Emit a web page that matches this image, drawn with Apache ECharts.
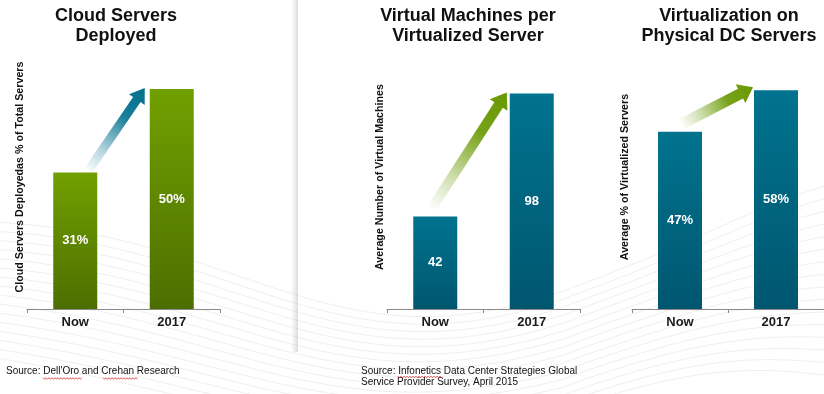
<!DOCTYPE html>
<html><head><meta charset="utf-8">
<script src="https://cdn.jsdelivr.net/npm/echarts@6/dist/echarts.min.js"></script>
<style>html,body{margin:0;padding:0;background:#fff}#c{width:824px;height:394px}</style>
</head><body><div id="c"></div>
<script>
// ---- data ----
const categories = ['Now', '2017'];
const cloudValues = [31, 50];
const vmValues = [42, 98];
const virtValues = [47, 58];
const panelTitles = ['Cloud Servers\nDeployed', 'Virtual Machines per\nVirtualized Server', 'Virtualization on\nPhysical DC Servers'];
const yNames = ['Cloud Servers Deployedas % of Total Servers', 'Average Number of Virtual Machines', 'Average % of Virtualized Servers'];
const labelSuffix = ['%', '', '%'];
const axisMax = [60, 120, 70];
const source1 = "Source: Dell'Oro and Crehan Research";
const source2 = "Source: Infonetics Data Center Strategies Global\nService Provider Survey, April 2015";

// ---- layout / style ----
const FONT = '"Liberation Sans", Arial, sans-serif';
const gridLefts = [27, 387, 632];
const gridW = 193;
const titleCenters = [116, 468, 729];
const seriesData = [cloudValues, vmValues, virtValues];
const barColors = [
  ['#71a000', '#4d6e00'],
  ['#00738f', '#00566f'],
  ['#00738f', '#00566f']
];
const arrowColors = [[0, 112, 142], [104, 152, 0], [104, 152, 0]];

const chart = echarts.init(document.getElementById('c'), null, {renderer: 'canvas'});

const grids = [], xAxes = [], yAxes = [], series = [], titles = [];
for (let i = 0; i < 3; i++) {
  grids.push({left: gridLefts[i], width: gridW, top: 45, bottom: 85});
  xAxes.push({
    type: 'category', gridIndex: i, data: categories,
    axisLine: {lineStyle: {color: '#8a8a8a', width: 1}},
    axisTick: {show: true, length: 4, lineStyle: {color: '#8a8a8a'}},
    axisLabel: {color: '#1a1a1a', fontFamily: FONT, fontWeight: 'bold', fontSize: 13, margin: 7}
  });
  yAxes.push({
    type: 'value', gridIndex: i, min: 0, max: axisMax[i],
    name: yNames[i], nameLocation: 'middle', nameGap: 1, nameRotate: 90,
    nameTextStyle: {color: '#111', fontFamily: FONT, fontWeight: 'bold', fontSize: 10.7},
    axisLine: {show: false}, axisTick: {show: false}, axisLabel: {show: false}, splitLine: {show: false}
  });
  const sfx = labelSuffix[i];
  series.push({
    type: 'bar', xAxisIndex: i, yAxisIndex: i, data: seriesData[i], barWidth: 44,
    itemStyle: {color: new echarts.graphic.LinearGradient(0, 0, 0, 1, [
      {offset: 0, color: barColors[i][0]}, {offset: 1, color: barColors[i][1]}])},
    label: {show: true, position: 'inside', color: '#fff', fontFamily: FONT, fontWeight: 'bold', fontSize: 13,
      formatter: p => p.value + sfx},
    silent: true, animation: false
  });
  titles.push({
    text: panelTitles[i], left: titleCenters[i], top: 6, textAlign: 'center', padding: 0,
    textStyle: {color: '#111', fontFamily: FONT, fontWeight: 'bold', fontSize: 18, lineHeight: 20}
  });
}

// decorative background waves
const bg = [];
for (let k = 0; k < 16; k++) {
  const y0 = 222 + k * 9;
  bg.push({
    type: 'bezierCurve', z: -10, silent: true,
    shape: {x1: -10, y1: y0, cpx1: 240, cpy1: y0 + 10 + k * 2, cpx2: 330, cpy2: y0 + 150 - k * 3, x2: 560, y2: y0 + 70 - k * 1},
    style: {stroke: '#ebebeb', lineWidth: 0.8, fill: null}
  });
  bg.push({
    type: 'bezierCurve', z: -10, silent: true,
    shape: {x1: 560, y1: y0 + 70 - k, cpx1: 700, cpy1: y0 + 20 - k, cpx2: 760, cpy2: y0 - 20 + k * 2, x2: 840, y2: y0 - 40 + k * 4},
    style: {stroke: '#ebebeb', lineWidth: 0.8, fill: null}
  });
}
// panel shadow
bg.push({type: 'rect', z: -5, silent: true, shape: {x: 291, y: 0, width: 7, height: 352},
  style: {fill: new echarts.graphic.LinearGradient(0, 0, 1, 0, [
    {offset: 0, color: 'rgba(200,200,200,0)'}, {offset: 1, color: 'rgba(190,190,190,0.55)'}])}});

const sources = [
  {type: 'text', left: 6, top: 366, style: {text: source1, font: '10px ' + FONT, fill: '#111'}},
  {type: 'text', left: 361, top: 366, style: {text: source2, font: '10px ' + FONT, fill: '#111', lineHeight: 11}}
];

function squiggle(x1, x2, y) {
  const pts = [];
  let up = true;
  for (let x = x1; x <= x2; x += 1.5) { pts.push([x, y + (up ? -0.8 : 0.8)]); up = !up; }
  return {type: 'polyline', silent: true, shape: {points: pts}, style: {stroke: '#e03030', lineWidth: 0.8, fill: null}};
}
const squiggles = [squiggle(43, 83, 378.5), squiggle(103, 138, 378.5), squiggle(398, 442, 377)];

chart.setOption({
  animation: false,
  backgroundColor: '#ffffff',
  title: titles, grid: grids, xAxis: xAxes, yAxis: yAxes, series: series,
  graphic: bg.concat(sources, squiggles)
});

// arrows computed from bar positions
const tailOff = [[13, -2], [-3, -9], [2, -8]];
const tipOff = [[-5, -1], [-3, -1], [-1, -3]];
const shaftW = [9, 10, 11];
const headW = [19, 21, 21];
const headL = [14, 15, 14];
const arrows = [];
for (let i = 0; i < 3; i++) {
  const a = chart.convertToPixel({seriesIndex: i}, [0, seriesData[i][0]]);
  const b = chart.convertToPixel({seriesIndex: i}, [1, seriesData[i][1]]);
  const T = [a[0] + tailOff[i][0], a[1] + tailOff[i][1]];
  const P = [b[0] - 22 + tipOff[i][0], b[1] + tipOff[i][1]];
  const dx = P[0] - T[0], dy = P[1] - T[1], L = Math.hypot(dx, dy);
  const u = [dx / L, dy / L], n = [-u[1], u[0]];
  const B = [P[0] - u[0] * headL[i], P[1] - u[1] * headL[i]];
  const w = shaftW[i] / 2, hw = headW[i] / 2;
  const pts = [
    [T[0] + n[0] * w, T[1] + n[1] * w], [B[0] + n[0] * w, B[1] + n[1] * w],
    [B[0] + n[0] * hw, B[1] + n[1] * hw], P,
    [B[0] - n[0] * hw, B[1] - n[1] * hw], [B[0] - n[0] * w, B[1] - n[1] * w],
    [T[0] - n[0] * w, T[1] - n[1] * w]
  ];
  const c = arrowColors[i].join(',');
  arrows.push({
    type: 'polygon', silent: true, z: 5, shape: {points: pts},
    style: {fill: new echarts.graphic.LinearGradient(T[0], T[1], P[0], P[1], [
      {offset: 0, color: 'rgba(' + c + ',0.02)'},
      {offset: 0.25, color: 'rgba(' + c + ',0.3)'},
      {offset: 0.65, color: 'rgba(' + c + ',0.9)'},
      {offset: 1, color: 'rgba(' + c + ',1)'}], true)}
  });
}
chart.setOption({graphic: bg.concat(sources, squiggles, arrows)});
</script></body></html>
